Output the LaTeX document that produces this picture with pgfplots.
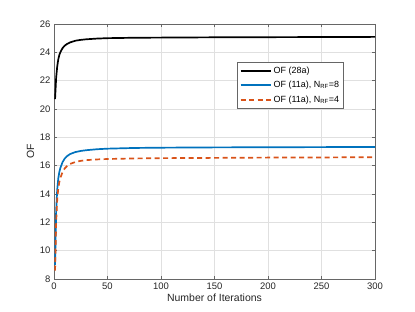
\documentclass[border=0pt]{standalone}
\usepackage{pgfplots}
\pgfplotsset{compat=1.18}
\usepackage{fontspec}
\setmainfont{Liberation Sans}
\definecolor{mblue}{RGB}{0,114,189}
\definecolor{morange}{RGB}{217,83,25}
\definecolor{axgray}{RGB}{38,38,38}
\begin{document}
\begin{tikzpicture}[x=1bp,y=1bp]
\useasboundingbox (0,0) rectangle (415,312);
\begin{axis}[
  at={(54bp,33bp)}, anchor=south west,
  scale only axis, width=321bp, height=255bp,
  xmin=0, xmax=300, ymin=8, ymax=26,
  xtick={0,50,...,300}, ytick={8,10,...,26},
  grid=major, major grid style={draw=black!12},
  axis line style={draw=black!60, line width=0.5pt},
  tick style={draw=black!60, line width=0.5pt},
  tick align=inside, major tick length=3bp,
  xtick pos=both, ytick pos=both,
  /pgf/number format/assume math mode=true,
  tick label style={font=\fontsize{9.5}{10}\selectfont, text=axgray},
  label style={font=\fontsize{10.5}{12}\selectfont, text=axgray},
  xlabel={Number of Iterations}, ylabel={OF},
  xlabel style={yshift=2bp}, ylabel style={yshift=-1bp},
  legend style={at={(0.571,0.851)}, anchor=north west, font=\fontsize{9}{10}\selectfont,
    draw=black!60, fill=white, inner xsep=2bp, inner ysep=2.5bp, row sep=2.5bp, cells={anchor=west}},
  legend image code/.code={\draw[#1,line width=2.2bp] (0bp,0bp) -- (30bp,0bp);},
]
\addplot[black, line width=1.7pt] coordinates {
(1,20.7) (2,22.2) (3,23.0) (4,23.5) (5,23.82) (6,24.02) (8,24.3) (10,24.47) (12,24.58) (15,24.7) (20,24.82) (25,24.88) (30,24.92) (40,24.97) (50,25.0) (75,25.03) (100,25.04) (150,25.06) (200,25.07) (250,25.08) (300,25.09)};
\addlegendentry{OF (28a)}
\addplot[color=mblue, line width=1.7pt] coordinates {
(1,9.0) (2,12.8) (3,14.3) (4,15.1) (5,15.55) (6,15.85) (8,16.25) (10,16.5) (12,16.66) (15,16.82) (20,16.96) (25,17.04) (30,17.09) (40,17.16) (50,17.2) (75,17.25) (100,17.27) (150,17.29) (200,17.3) (250,17.31) (300,17.32)};
\addlegendentry{OF (11a), N\textsubscript{RF}=8}
\addplot[color=morange, line width=1.7pt, dash pattern=on 5bp off 3.5bp] coordinates {
(1,8.6) (2,12.0) (3,13.6) (4,14.4) (5,14.85) (6,15.15) (8,15.55) (10,15.8) (12,15.96) (15,16.12) (20,16.26) (25,16.34) (30,16.39) (40,16.44) (50,16.47) (75,16.51) (100,16.53) (150,16.55) (200,16.57) (250,16.58) (300,16.6)};
\addlegendentry{OF (11a), N\textsubscript{RF}=4}
\end{axis}
\end{tikzpicture}
\end{document}
